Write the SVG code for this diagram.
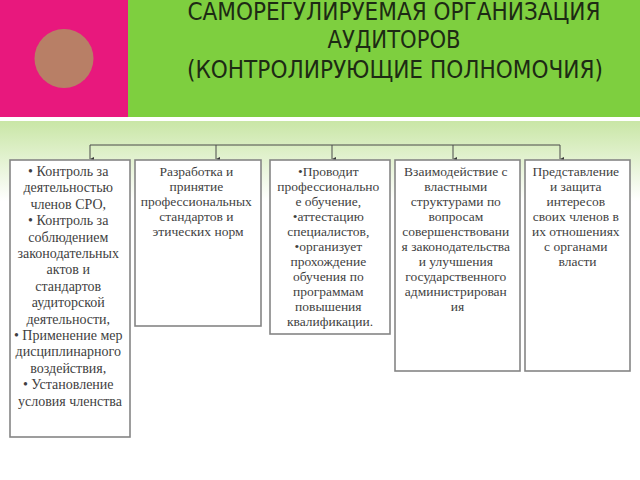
<svg xmlns="http://www.w3.org/2000/svg" width="640" height="480" viewBox="0 0 640 480">
<defs>
<linearGradient id="band" x1="0" y1="0" x2="0" y2="1">
<stop offset="0" stop-color="#c9e6a6"/>
<stop offset="1" stop-color="#ffffff"/>
</linearGradient>
<marker id="ah" markerWidth="4" markerHeight="4" refX="2" refY="4" orient="auto" markerUnits="userSpaceOnUse" viewBox="0 0 4 4">
<path d="M0,0 L4,0 L2,4 Z" fill="#3a3a3a"/>
</marker>
<style>
.box{fill:#ffffff;stroke:#858585;stroke-width:1.6}
.t{font-family:"Liberation Serif","DejaVu Serif",serif;font-size:13.5px;fill:#3f3f3f;text-anchor:middle}
.t1{font-size:14px}
.title{font-family:"DejaVu Sans","Liberation Sans",sans-serif;font-stretch:condensed;font-size:24px;fill:#1d2a14;text-anchor:middle}
.con{stroke:#4a4a4a;stroke-width:1;fill:none}
</style>
</defs>
<rect x="0" y="0" width="640" height="480" fill="#ffffff"/>
<rect x="0" y="121" width="640" height="80" fill="url(#band)"/>
<rect x="0" y="0" width="128" height="117" fill="#e8187d"/>
<rect x="128" y="0" width="512" height="117" fill="#7ecf3f"/>
<ellipse cx="64" cy="58.5" rx="29.5" ry="29.5" fill="#b87f66"/>
<g id="title">
<text class="title" x="394" y="20" textLength="413" lengthAdjust="spacingAndGlyphs">САМОРЕГУЛИРУЕМАЯ ОРГАНИЗАЦИЯ</text>
<text class="title" x="394" y="48" textLength="133" lengthAdjust="spacingAndGlyphs">АУДИТОРОВ</text>
<text class="title" x="395" y="78" textLength="416" lengthAdjust="spacingAndGlyphs">(КОНТРОЛИРУЮЩИЕ ПОЛНОМОЧИЯ)</text>
</g>
<g id="connectors">
<path class="con" d="M90,145 H560"/>
<path class="con" d="M90,145 V159" marker-end="url(#ah)"/>
<path class="con" d="M216,145 V159" marker-end="url(#ah)"/>
<path class="con" d="M332,145 V159" marker-end="url(#ah)"/>
<path class="con" d="M453,145 V159" marker-end="url(#ah)"/>
<path class="con" d="M560,145 V159" marker-end="url(#ah)"/>
</g>
<g id="node1">
<rect class="box" x="10" y="160" width="120" height="277"/>
<text class="t t1" x="70">
<tspan x="70" y="176">• Контроль за</tspan>
<tspan x="70" y="192.4">деятельностью</tspan>
<tspan x="70" y="208.8">членов СРО,</tspan>
<tspan x="70" y="225.2">• Контроль за</tspan>
<tspan x="70" y="241.6">соблюдением</tspan>
<tspan x="70" y="258">законодательных</tspan>
<tspan x="70" y="274.4">актов и</tspan>
<tspan x="70" y="290.8">стандартов</tspan>
<tspan x="70" y="307.2">аудиторской</tspan>
<tspan x="70" y="323.6">деятельности,</tspan>
<tspan x="70" y="340">• Применение мер</tspan>
<tspan x="70" y="356.4">дисциплинарного</tspan>
<tspan x="70" y="372.8">воздействия,</tspan>
<tspan x="70" y="389.2">• Установление</tspan>
<tspan x="70" y="405.6">условия членства</tspan>
</text>
</g>
<g id="node2">
<rect class="box" x="135" y="160" width="126" height="166"/>
<text class="t" x="198">
<tspan x="198" y="176">Разработка и</tspan>
<tspan x="198" y="191">принятие</tspan>
<tspan x="198" y="206">профессиональных</tspan>
<tspan x="198" y="221">стандартов и</tspan>
<tspan x="198" y="236">этических норм</tspan>
</text>
</g>
<g id="node3">
<rect class="box" x="270" y="160" width="120" height="174"/>
<text class="t" x="330">
<tspan x="330" y="176">•Проводит</tspan>
<tspan x="330" y="191">профессионально</tspan>
<tspan x="330" y="206">е обучение,</tspan>
<tspan x="330" y="221">•аттестацию</tspan>
<tspan x="330" y="236">специалистов,</tspan>
<tspan x="330" y="251">•организует</tspan>
<tspan x="330" y="266">прохождение</tspan>
<tspan x="330" y="281">обучения по</tspan>
<tspan x="330" y="296">программам</tspan>
<tspan x="330" y="311">повышения</tspan>
<tspan x="330" y="326">квалификации.</tspan>
</text>
</g>
<g id="node4">
<rect class="box" x="395" y="160" width="125" height="211"/>
<text class="t" x="457.5">
<tspan x="457.5" y="176">Взаимодействие с</tspan>
<tspan x="457.5" y="191">властными</tspan>
<tspan x="457.5" y="206">структурами по</tspan>
<tspan x="457.5" y="221">вопросам</tspan>
<tspan x="457.5" y="236">совершенствовани</tspan>
<tspan x="457.5" y="251">я законодательства</tspan>
<tspan x="457.5" y="266">и улучшения</tspan>
<tspan x="457.5" y="281">государственного</tspan>
<tspan x="457.5" y="296">администрирован</tspan>
<tspan x="457.5" y="311">ия</tspan>
</text>
</g>
<g id="node5">
<rect class="box" x="525" y="160" width="105" height="211"/>
<text class="t" x="577.5">
<tspan x="577.5" y="176">Представление</tspan>
<tspan x="577.5" y="191">и защита</tspan>
<tspan x="577.5" y="206">интересов</tspan>
<tspan x="577.5" y="221">своих членов в</tspan>
<tspan x="577.5" y="236">их отношениях</tspan>
<tspan x="577.5" y="251">с органами</tspan>
<tspan x="577.5" y="266">власти</tspan>
</text>
</g>
</svg>
